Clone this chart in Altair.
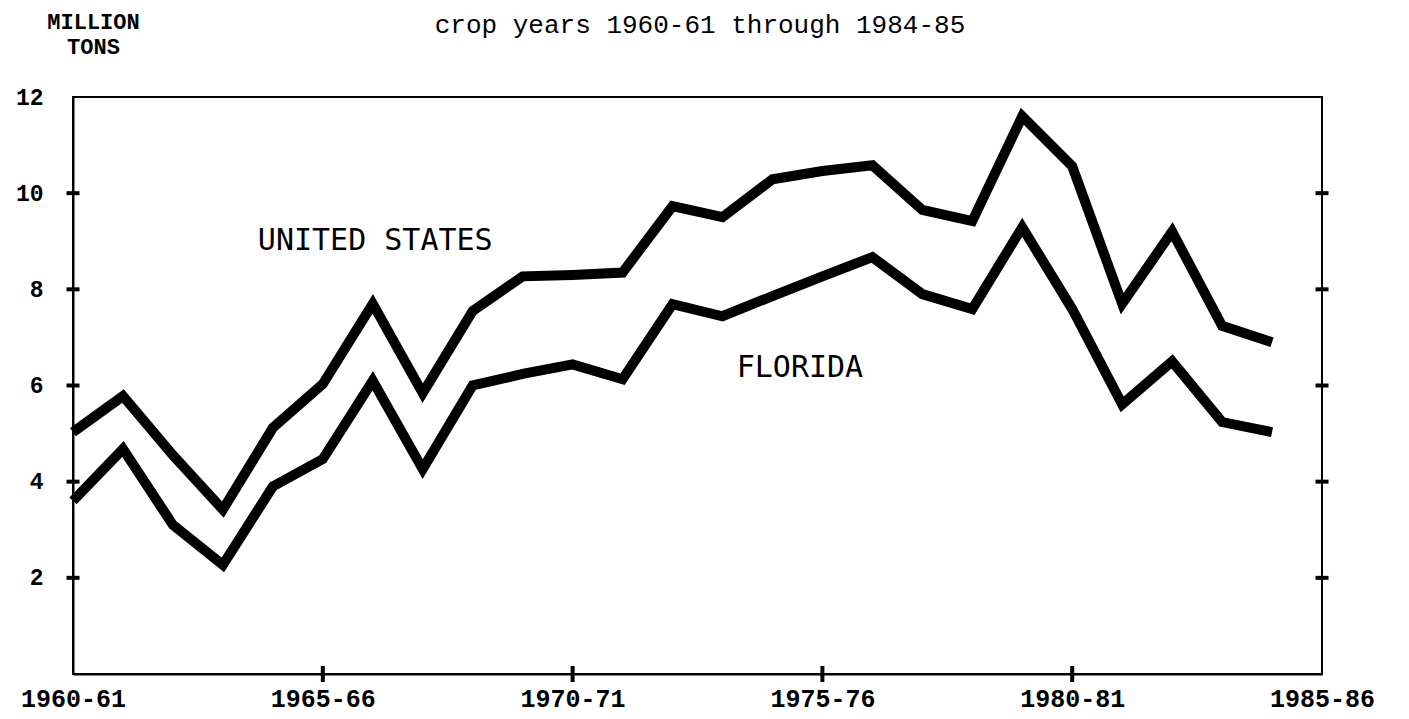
import altair as alt
import pandas as pd

# ---- data ----
years = list(range(1960, 1985))
us_values = [5.03, 5.78, 4.55, 3.42, 5.12, 6.03, 7.70, 5.84, 7.55, 8.27,
             8.30, 8.35, 9.73, 9.50, 10.29, 10.46, 10.58, 9.65, 9.42, 11.60,
             10.56, 7.70, 9.20, 7.24, 6.90]
fl_values = [3.60, 4.68, 3.10, 2.27, 3.90, 4.47, 6.10, 4.26, 6.00, 6.24,
             6.44, 6.13, 7.69, 7.44, 7.86, 8.27, 8.67, 7.90, 7.59, 9.29,
             7.59, 5.61, 6.50, 5.24, 5.03]
series_names = ["United States", "Florida"]

x_tick_values = [1960, 1965, 1970, 1975, 1980, 1985]
x_tick_labels = ["1960-61", "1965-66", "1970-71", "1975-76", "1980-81", "1985-86"]
y_tick_values = [2, 4, 6, 8, 10, 12]
y_tick_labels = ["2", "4", "6", "8", "10", "12"]
y_mark_values = [2, 4, 6, 8, 10]
x_mark_values = [1965, 1970, 1975, 1980]
frame_years = [1960, 1985]

ann_text = ["UNITED STATES", "FLORIDA"]
ann_year = [1966.05, 1974.55]
ann_value = [9.0, 6.36]

title_text = "crop years 1960-61 through 1984-85"
y_title = ["MILLION", "TONS"]

# ---- tables ----
lines_df = pd.DataFrame({
    "year": years * 2,
    "value": us_values + fl_values,
    "series": [series_names[0]] * len(years) + [series_names[1]] * len(years),
})
ytick_df = pd.DataFrame({
    "year": [y for y in frame_years for _ in y_mark_values],
    "value": [v for _ in frame_years for v in y_mark_values],
})
xtick_df = pd.DataFrame({"year": x_mark_values, "value": [0] * len(x_mark_values)})
ann_df = pd.DataFrame({"year": ann_year, "value": ann_value, "text": ann_text})
title_df = pd.DataFrame({"text": [title_text]})


def label_expr(values, labels):
    expr = "''"
    for v, l in zip(reversed(values), reversed(labels)):
        expr = f"datum.value == {v} ? '{l}' : ({expr})"
    return expr


x_scale = alt.Scale(domain=[1960, 1985], nice=False, zero=False)
y_scale = alt.Scale(domain=[0, 12], nice=False, zero=False)

x_axis = alt.Axis(
    values=x_tick_values, labelExpr=label_expr(x_tick_values, x_tick_labels),
    ticks=False, grid=False, domain=True, domainColor="black", domainWidth=2,
    labelFont="Liberation Mono", labelFontWeight="bold", labelFontSize=25,
    labelColor="black", labelPadding=12, labelFlush=False, labelOverlap=False,
    labelBaseline="top", title=None,
)
y_axis = alt.Axis(
    values=y_tick_values, labelExpr=label_expr(y_tick_values, y_tick_labels),
    ticks=False, grid=False, domain=True, domainColor="black", domainWidth=2,
    labelFont="Liberation Mono", labelFontWeight="bold", labelFontSize=23,
    labelColor="black", labelPadding=30, labelFlush=False, labelOverlap=False,
    title=y_title, titleAngle=0, titleX=20, titleY=-69, titleAlign="center",
    titleBaseline="alphabetic", titleFont="Liberation Mono", titleFontWeight="bold",
    titleFontSize=22, titleLineHeight=25, titleColor="black",
)

x_enc = alt.X("year:Q", scale=x_scale, axis=x_axis)
y_enc = alt.Y("value:Q", scale=y_scale, axis=y_axis)

lines = alt.Chart(lines_df).mark_line(
    color="black", strokeWidth=10, strokeJoin="miter", strokeMiterLimit=4, strokeCap="butt"
).encode(x=x_enc, y=y_enc, detail="series:N")

yticks = alt.Chart(ytick_df).mark_tick(
    orient="horizontal", size=13, thickness=4, color="black", opacity=1
).encode(x=x_enc, y=y_enc)

xticks = alt.Chart(xtick_df).mark_tick(
    orient="vertical", size=16, thickness=4, color="black", opacity=1
).encode(x=x_enc, y=y_enc)

labels = alt.Chart(ann_df).mark_text(
    font="DejaVu Sans Mono", fontSize=30, align="center", baseline="middle", color="black"
).encode(x=x_enc, y=y_enc, text="text:N")

title = alt.Chart(title_df).mark_text(
    font="Liberation Mono", fontSize=26, align="center", baseline="alphabetic", color="black"
).encode(x=alt.value(627), y=alt.value(-64), text="text:N")

chart = alt.layer(lines, yticks, xticks, labels, title).properties(
    width=1249, height=577,
    autosize=alt.AutoSizeParams(type="none"),
    padding={"left": 65, "top": 89, "right": 70, "bottom": 40},
    background="white",
).configure_view(stroke="black", strokeWidth=2)

chart.save("out.html", embed_options={"renderer": "svg", "actions": False})
